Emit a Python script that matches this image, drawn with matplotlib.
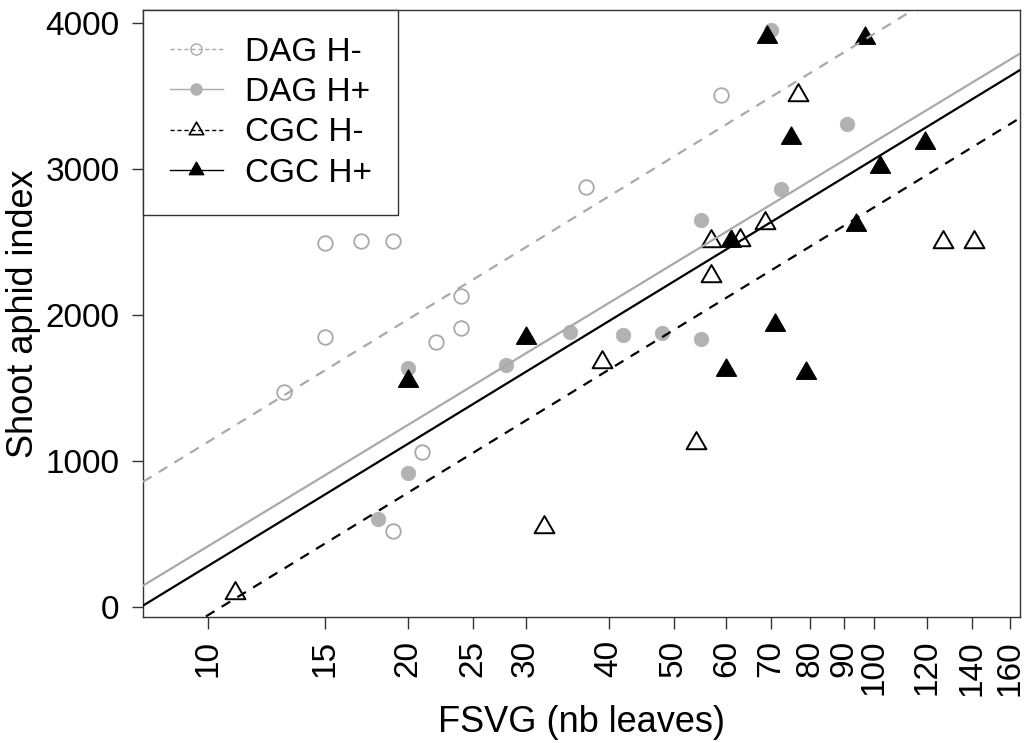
import numpy as np
import matplotlib
matplotlib.use("Agg")
import matplotlib.pyplot as plt
from matplotlib.lines import Line2D
from matplotlib.path import Path
from matplotlib.ticker import FixedLocator, NullLocator, FixedFormatter

plt.rcParams['font.family'] = ['Liberation Sans', 'DejaVu Sans']

# ---- data ----
dag_hm_x = [13, 15, 15, 17, 19, 19, 21, 22, 24, 24, 37, 59]
dag_hm_y = [1475, 2495, 1850, 2505, 2505, 520, 1065, 1815, 2130, 1910, 2875, 3505]

dag_hp_x = [18, 20, 20, 28, 35, 42, 48, 55, 55, 72.5, 91, 70]
dag_hp_y = [605, 915, 1635, 1655, 1885, 1860, 1875, 1835, 2650, 2865, 3310, 3950]

cgc_hm_x = [11, 32, 39, 54, 57, 57, 63, 68.5, 77, 127, 141]
cgc_hm_y = [95, 545, 1680, 1125, 2510, 2270, 2515, 2630, 3510, 2500, 2500]

cgc_hp_x = [20, 30, 60, 61, 69, 71, 75, 79, 94, 97, 102, 119]
cgc_hp_y = [1545, 1845, 1625, 2505, 3905, 1930, 3215, 1600, 2615, 3895, 3015, 3175]

# regression lines y = value_at_10 + slope * (log10(x) - 1)
labels = ["DAG H-", "DAG H+", "CGC H-", "CGC H+"]
line_at10 = [1129, 415, -57, 280]
line_slope = [2797, 2770, 2795, 2788]

x_ticks = [10, 15, 20, 25, 30, 40, 50, 60, 70, 80, 90, 100, 120, 140, 160]
y_ticks = [0, 1000, 2000, 3000, 4000]

# ---- styles ----
GRAY_LINE = '#a9a9a9'
GRAY_PT = '#b2b2b2'
tri = Path([(0, 1.5551), (1.3468, -0.7776), (-1.3468, -0.7776), (0, 1.5551)],
           closed=True)

fig = plt.figure(figsize=(10.26, 7.43), dpi=100)
ax = fig.add_axes([143/1026, 1-617/743, (1020-143)/1026, (617-10)/743])
ax.set_xscale('log')
ax.set_xlim(8.0, 165.5)
ax.set_ylim(-68, 4089)

ax.plot(dag_hm_x, dag_hm_y, ls='none', marker='o', ms=10.5, mfc='none',
        mec=GRAY_LINE, mew=1.3, zorder=3)
ax.plot(dag_hp_x, dag_hp_y, ls='none', marker='o', ms=10.5, mfc=GRAY_PT,
        mec=GRAY_PT, mew=0.5, zorder=3)
ax.plot(cgc_hm_x, cgc_hm_y, ls='none', marker=tri, ms=16.5, mfc='none',
        mec='black', mew=1.4, zorder=3)
ax.plot(cgc_hp_x, cgc_hp_y, ls='none', marker=tri, ms=16.5, mfc='black',
        mec='black', mew=1.0, zorder=3)

colors = [GRAY_LINE, GRAY_LINE, 'black', 'black']
styles = [(0, (4.5, 3.8)), '-', (0, (4.5, 3.8)), '-']
xs = np.logspace(np.log10(8.0), np.log10(165.5), 50)
for a, b, c, s in zip(line_at10, line_slope, colors, styles):
    ax.plot(xs, a + b*(np.log10(xs) - 1), color=c, ls=s, lw=1.6, zorder=4)

ax.xaxis.set_major_locator(FixedLocator(x_ticks))
ax.xaxis.set_major_formatter(FixedFormatter([str(v) for v in x_ticks]))
ax.xaxis.set_minor_locator(NullLocator())
ax.set_yticks(y_ticks)
ax.tick_params(axis='x', labelsize=24, rotation=90, length=8.5, width=1, pad=8,
               color='#333333')
ax.tick_params(axis='y', labelsize=24, length=8, width=1, pad=9, color='#333333')
for sp in ax.spines.values():
    sp.set_linewidth(1.0)
    sp.set_color('#333333')

ax.set_xlabel('FSVG (nb leaves)', fontsize=26)
ax.xaxis.set_label_coords((581 - 143) / (1020 - 143), -(705 - 617) / (617 - 10))
ax.set_ylabel('Shoot aphid index', fontsize=26)
ax.yaxis.set_label_coords(-(143 - 41) / (1020 - 143), 0.5)

handles = [
    Line2D([], [], color=GRAY_LINE, ls=(0, (3, 2)), lw=1.0, marker='o', ms=8,
           mfc='none', mec=GRAY_LINE, mew=1.0),
    Line2D([], [], color=GRAY_LINE, ls='-', lw=1.0, marker='o', ms=8,
           mfc=GRAY_PT, mec=GRAY_PT),
    Line2D([], [], color='black', ls=(0, (3, 2)), lw=1.0, marker=tri, ms=12,
           mfc='none', mec='black', mew=1.2),
    Line2D([], [], color='black', ls='-', lw=1.0, marker=tri, ms=12,
           mfc='black', mec='black'),
]
leg = ax.legend(handles, labels, loc='upper left', bbox_to_anchor=(0, 1),
                borderaxespad=0, fontsize=24, frameon=True, fancybox=False,
                edgecolor='#333333', framealpha=1, handlelength=1.6,
                handletextpad=0.65, labelspacing=0.28, borderpad=0.8)
leg.get_frame().set_linewidth(1.0)
leg.set_zorder(5)

fig.savefig('out.png', dpi=100)
